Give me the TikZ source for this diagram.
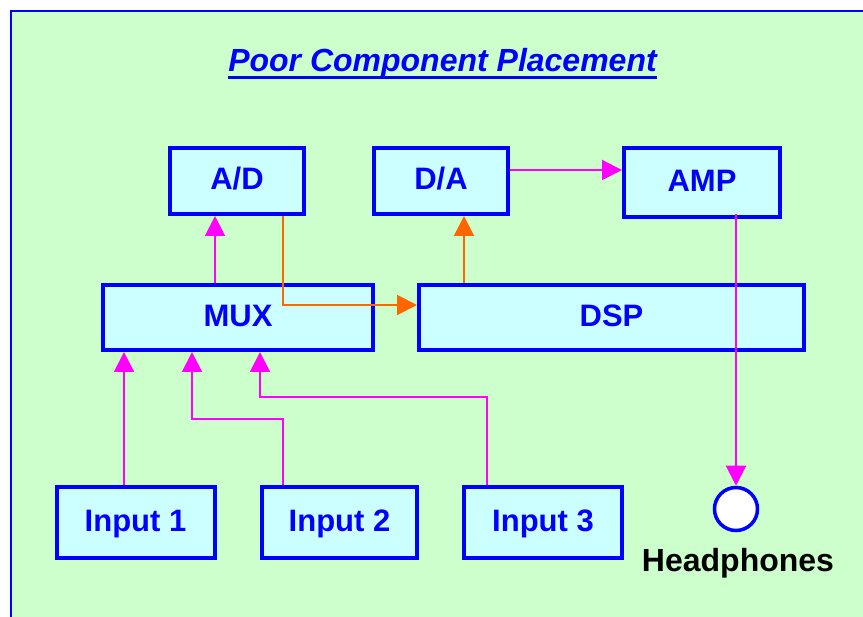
\documentclass[tikz,border=0pt]{standalone}
\usepackage{fontspec}
\setmainfont{Liberation Sans}
\usetikzlibrary{arrows.meta,calc}
\definecolor{bgGreen}{HTML}{CCFFCC}
\definecolor{boxFill}{HTML}{CCFFFF}
\definecolor{pBlue}{HTML}{0000FF}
\definecolor{pMag}{HTML}{FF00FF}
\definecolor{pOrange}{HTML}{FF6600}
\tikzset{
  box/.style={draw=pBlue, fill=boxFill, line width=4pt, inner sep=0pt,
    text=pBlue, font=\fontsize{31}{37}\selectfont\bfseries,
    text height=22.2pt, text depth=5pt},
  magline/.style={draw=pMag, line width=2pt, -{Triangle[width=20pt,length=20pt]}},
  orline/.style={draw=pOrange, line width=2pt, -{Triangle[width=20pt,length=20pt]}},
}
\begin{document}
\begin{tikzpicture}[x=1pt,y=-1pt]
\useasboundingbox (0,0) rectangle (863,617);
\fill[white] (0,0) rectangle (863,617);
\fill[bgGreen] (11,11) rectangle (863,617);
\draw[pBlue, line width=2pt] (11,617) -- (11,11) -- (863,11);

\node[inner sep=0pt, anchor=base, text=pBlue, font=\fontsize{32}{38}\selectfont\bfseries\itshape] (title) at (442.5,72) {Poor Component Placement};
\draw[pBlue, line width=3pt] ([yshift=-6pt]title.base west) -- ([yshift=-6pt]title.base east);

\node[box, minimum width=134pt, minimum height=66pt] (ad) at (237,181) {A/D};
\node[box, minimum width=134pt, minimum height=66pt] (da) at (441,181) {D/A};
\node[box, minimum width=156pt, minimum height=69pt] (amp) at (702,182.5) {AMP};
\node[box, minimum width=270pt, minimum height=65pt] (mux) at (238,317.5) {MUX};
\node[box, minimum width=385pt, minimum height=65pt] (dsp) at (611.5,317.5) {DSP};
\node[box, minimum width=158pt, minimum height=71pt] (in1) at (135.5,523) {Input 1};
\node[box, minimum width=155pt, minimum height=71pt] (in2) at (339.5,523) {Input 2};
\node[box, minimum width=158pt, minimum height=71pt] (in3) at (543,523) {Input 3};

\node[circle, draw=pBlue, fill=white, line width=3.5pt, minimum size=43pt, inner sep=0pt] (hp) at (736,509) {};
\node[anchor=base, inner sep=0pt, font=\fontsize{32}{38}\selectfont\bfseries] (hplabel) at (738,572) {Headphones};

% MUX -> A/D
\draw[magline] ([xshift=-22pt]ad.south |- mux.north) -- ([xshift=-22pt]ad.south);
% A/D -> DSP
\draw[orline] ([xshift=46pt]ad.south) |- ([yshift=12.5pt]dsp.west);
% DSP -> D/A
\draw[orline] ([xshift=23pt]da.south |- dsp.north) -- ([xshift=23pt]da.south);
% D/A -> AMP
\draw[magline] ([yshift=11pt]da.east) -- ([yshift=11pt]da.east -| amp.west);
% AMP -> Headphones
\draw[magline] ([xshift=34pt,yshift=5pt]amp.south) -- (hp.north);
% Inputs -> MUX
\draw[magline] ([xshift=-11.5pt]in1.north) -- ([xshift=-11.5pt]in1.north |- mux.south);
\coordinate (k2) at (192,419);
\coordinate (k3) at (260,397);
\draw[magline] ([xshift=-56.5pt]in2.north) |- (k2) -- (k2 |- mux.south);
\draw[magline] ([xshift=-56.5pt]in3.north) |- (k3) -- (k3 |- mux.south);
\end{tikzpicture}
\end{document}
